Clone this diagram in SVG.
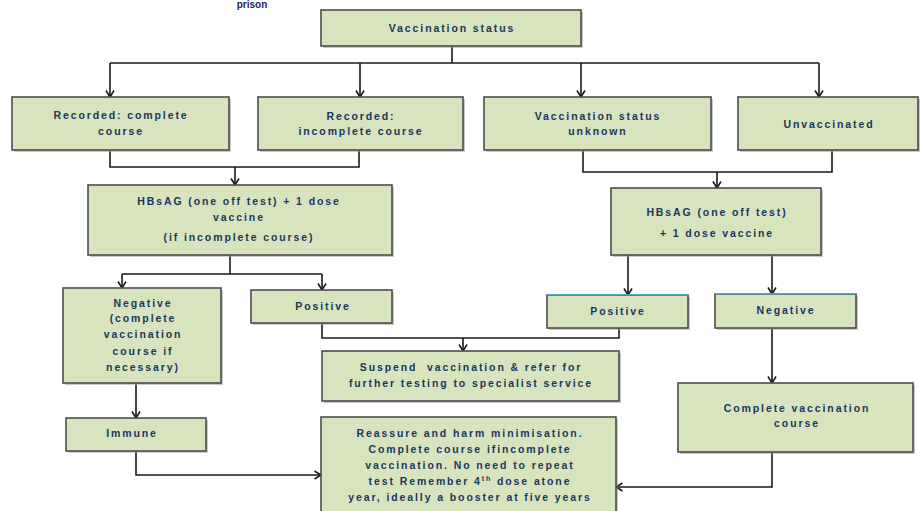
<svg xmlns="http://www.w3.org/2000/svg" width="920" height="511" viewBox="0 0 920 511">
<style>
.sh{fill:#9a9a9a;opacity:0.55}
.bx{fill:#d7e4bd;stroke:#4d4d4d;stroke-width:1.6}
.t{font-family:"Liberation Sans",Arial,sans-serif;font-size:10.5px;font-weight:bold;fill:#17375e;text-anchor:middle;dominant-baseline:central;letter-spacing:1.9px}
.c{fill:none;stroke:#1a1a1a;stroke-width:1.6}
.top{fill:#4bacc6}
</style>
<defs>
<marker id="ah" markerUnits="userSpaceOnUse" markerWidth="12" markerHeight="12" refX="8" refY="5" orient="auto">
<path d="M1.5,1 L8,5 L1.5,9" fill="none" stroke="#1a1a1a" stroke-width="1.6"/>
</marker>
</defs>
<text x="252" y="8" style="font-family:'Liberation Sans',Arial,sans-serif;font-size:10px;font-weight:bold;fill:#1f1f5a;text-anchor:middle">prison</text>

<g id="connectors">
<path class="c" d="M452,46 V63 M110,63 H819"/>
<path class="c" marker-end="url(#ah)" d="M110,63 V97"/>
<path class="c" marker-end="url(#ah)" d="M360,63 V97"/>
<path class="c" marker-end="url(#ah)" d="M581,63 V97"/>
<path class="c" marker-end="url(#ah)" d="M819,63 V97"/>
<path class="c" d="M110,150 V167 H359 V150"/>
<path class="c" marker-end="url(#ah)" d="M235,167 V185"/>
<path class="c" d="M583,150 V172 H832 V150"/>
<path class="c" marker-end="url(#ah)" d="M717,172 V188"/>
<path class="c" d="M230,255 V274 M122,274 H322"/>
<path class="c" marker-end="url(#ah)" d="M122,274 V288"/>
<path class="c" marker-end="url(#ah)" d="M322,274 V290"/>
<path class="c" marker-end="url(#ah)" d="M628,255 V295"/>
<path class="c" marker-end="url(#ah)" d="M772,255 V294"/>
<path class="c" d="M322,323 V338 H619 V328"/>
<path class="c" marker-end="url(#ah)" d="M463,338 V351"/>
<path class="c" marker-end="url(#ah)" d="M772,328 V383"/>
<path class="c" marker-end="url(#ah)" d="M136,383 V418"/>
<path class="c" marker-end="url(#ah)" d="M136,451 V475 H321"/>
<path class="c" marker-end="url(#ah)" d="M772,452 V487 H616"/>
</g>

<g id="vaccination-status">
<rect class="sh" x="323" y="12" width="260" height="36"/>
<rect class="bx" x="321" y="10" width="260" height="36"/>
<text class="t" x="452" y="28">Vaccination status</text>
</g>

<g id="recorded-complete">
<rect class="sh" x="14" y="99" width="217" height="53"/>
<rect class="bx" x="12" y="97" width="217" height="53"/>
<text class="t" x="121" y="115">Recorded: complete</text>
<text class="t" x="121" y="131">course</text>
</g>

<g id="recorded-incomplete">
<rect class="sh" x="260" y="99" width="205" height="53"/>
<rect class="bx" x="258" y="97" width="205" height="53"/>
<text class="t" x="361" y="116">Recorded:</text>
<text class="t" x="361" y="131">incomplete course</text>
</g>

<g id="status-unknown">
<rect class="sh" x="486" y="99" width="227" height="53"/>
<rect class="bx" x="484" y="97" width="227" height="53"/>
<text class="t" x="598" y="116">Vaccination status</text>
<text class="t" x="598" y="131">unknown</text>
</g>

<g id="unvaccinated">
<rect class="sh" x="740" y="99" width="180" height="53"/>
<rect class="bx" x="738" y="97" width="180" height="53"/>
<text class="t" x="829" y="124">Unvaccinated</text>
</g>

<g id="hbsag-left">
<rect class="sh" x="90" y="187" width="304" height="70"/>
<rect class="bx" x="88" y="185" width="304" height="70"/>
<text class="t" x="239" y="201">HBsAG (one off test) + 1 dose</text>
<text class="t" x="239" y="217">vaccine</text>
<text class="t" x="239" y="237">(if incomplete course)</text>
</g>

<g id="hbsag-right">
<rect class="sh" x="613" y="190" width="210" height="67"/>
<rect class="bx" x="611" y="188" width="210" height="67"/>
<text class="t" x="717" y="212">HBsAG (one off test)</text>
<text class="t" x="717" y="233">+ 1 dose vaccine</text>
</g>

<g id="negative-left">
<rect class="sh" x="65" y="290" width="158" height="95"/>
<rect class="bx" x="63" y="288" width="158" height="95"/>
<text class="t" x="143" y="303">Negative</text>
<text class="t" x="143" y="318">(complete</text>
<text class="t" x="143" y="334">vaccination</text>
<text class="t" x="143" y="351">course if</text>
<text class="t" x="143" y="367">necessary)</text>
</g>

<g id="positive-left">
<rect class="sh" x="253" y="292" width="141" height="33"/>
<rect class="bx" x="251" y="290" width="141" height="33"/>
<text class="t" x="323" y="306">Positive</text>
</g>

<g id="positive-right">
<rect class="sh" x="549" y="297" width="141" height="33"/>
<rect class="bx" x="547" y="295" width="141" height="33"/>
<rect class="top" x="547" y="294" width="141" height="1.5"/>
<text class="t" x="618" y="311">Positive</text>
</g>

<g id="negative-right">
<rect class="sh" x="717" y="296" width="141" height="34"/>
<rect class="bx" x="715" y="294" width="141" height="34"/>
<rect class="top" x="715" y="293" width="141" height="1.5"/>
<text class="t" x="786" y="310">Negative</text>
</g>

<g id="suspend">
<rect class="sh" x="324" y="353" width="297" height="50"/>
<rect class="bx" x="322" y="351" width="297" height="50"/>
<text class="t" x="471" y="367" xml:space="preserve">Suspend  vaccination &amp; refer for</text>
<text class="t" x="471" y="383">further testing to specialist service</text>
</g>

<g id="immune">
<rect class="sh" x="68" y="420" width="140" height="33"/>
<rect class="bx" x="66" y="418" width="140" height="33"/>
<text class="t" x="132" y="433">Immune</text>
</g>

<g id="complete-course">
<rect class="sh" x="680" y="385" width="235" height="69"/>
<rect class="bx" x="678" y="383" width="235" height="69"/>
<text class="t" x="797" y="408">Complete vaccination</text>
<text class="t" x="797" y="423">course</text>
</g>

<g id="reassure">
<rect class="sh" x="323" y="419" width="295" height="100"/>
<rect class="bx" x="321" y="417" width="295" height="100"/>
<text class="t" x="470" y="433">Reassure and harm minimisation.</text>
<text class="t" x="470" y="449">Complete course ifincomplete</text>
<text class="t" x="470" y="465">vaccination. No need to repeat</text>
<text class="t" x="470" y="481">test Remember 4<tspan dy="-3" style="font-size:7px">th</tspan><tspan dy="3"> dose atone</tspan></text>
<text class="t" x="470" y="497">year, ideally a booster at five years</text>
</g>
</svg>
